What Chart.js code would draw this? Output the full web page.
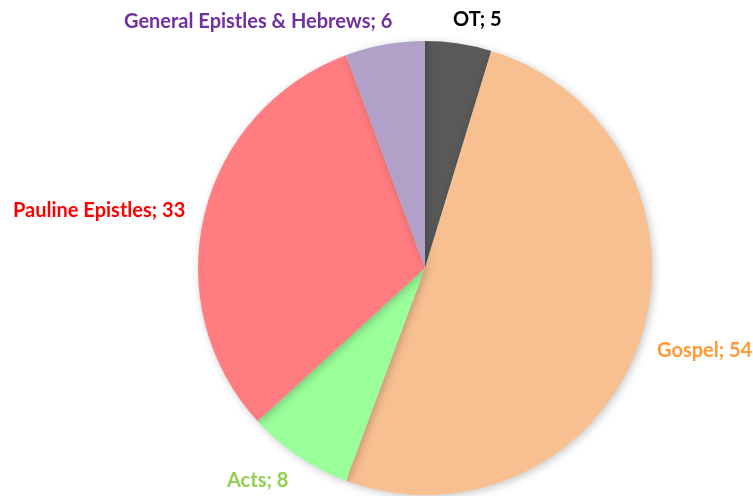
<!DOCTYPE html>
<html>
<head>
<meta charset="utf-8">
<script src="https://cdn.jsdelivr.net/npm/chart.js"></script>
<style>
  html, body { margin: 0; padding: 0; background: #fff; }
  #wrap { width: 753px; height: 496px; }
</style>
</head>
<body>
<div id="wrap"><canvas id="pieChart" width="753" height="496"></canvas></div>
<script>
// data
const categories = ["OT", "Gospel", "Acts", "Pauline Epistles", "General Epistles & Hebrews"];
const counts = [5, 54, 8, 33, 6];
const sliceColors = ["#595959", "#F8C091", "#99FF99", "#FF7C80", "#B1A0C7"];
const labelColors = ["#000000", "#FF9933", "#92D050", "#FF0000", "#7030A0"];
// where each label's text starts (left edge, vertical middle)
const labelSpots = [[453, 20], [657, 351], [227, 481], [13, 211], [124, 22]];

const shadowPlugin = {
  id: 'sliceShadow',
  beforeDatasetsDraw(chart) {
    const ctx = chart.ctx;
    ctx.save();
    ctx.shadowColor = 'rgba(0,0,0,0.22)';
    ctx.shadowBlur = 8;
    ctx.shadowOffsetX = 2;
    ctx.shadowOffsetY = 2;
  },
  afterDatasetsDraw(chart) {
    chart.ctx.restore();
  }
};

const labelPlugin = {
  id: 'outLabels',
  afterDraw(chart) {
    const ctx = chart.ctx;
    ctx.save();
    ctx.font = 'bold 20px Lato, "Open Sans", sans-serif';
    ctx.textAlign = 'left';
    ctx.textBaseline = 'middle';
    categories.forEach((c, i) => {
      ctx.fillStyle = labelColors[i];
      ctx.fillText(c + '; ' + counts[i], labelSpots[i][0], labelSpots[i][1]);
    });
    ctx.restore();
  }
};

const ctx = document.getElementById('pieChart').getContext('2d');
new Chart(ctx, {
  type: 'pie',
  data: {
    labels: categories,
    datasets: [{
      data: counts,
      backgroundColor: sliceColors,
      borderWidth: 0
    }]
  },
  options: {
    responsive: false,
    animation: false,
    layout: { padding: { left: 198, right: 101, top: 41, bottom: 1 } },
    plugins: {
      legend: { display: false },
      tooltip: { enabled: false }
    }
  },
  plugins: [shadowPlugin, labelPlugin]
});
</script>
</body>
</html>
